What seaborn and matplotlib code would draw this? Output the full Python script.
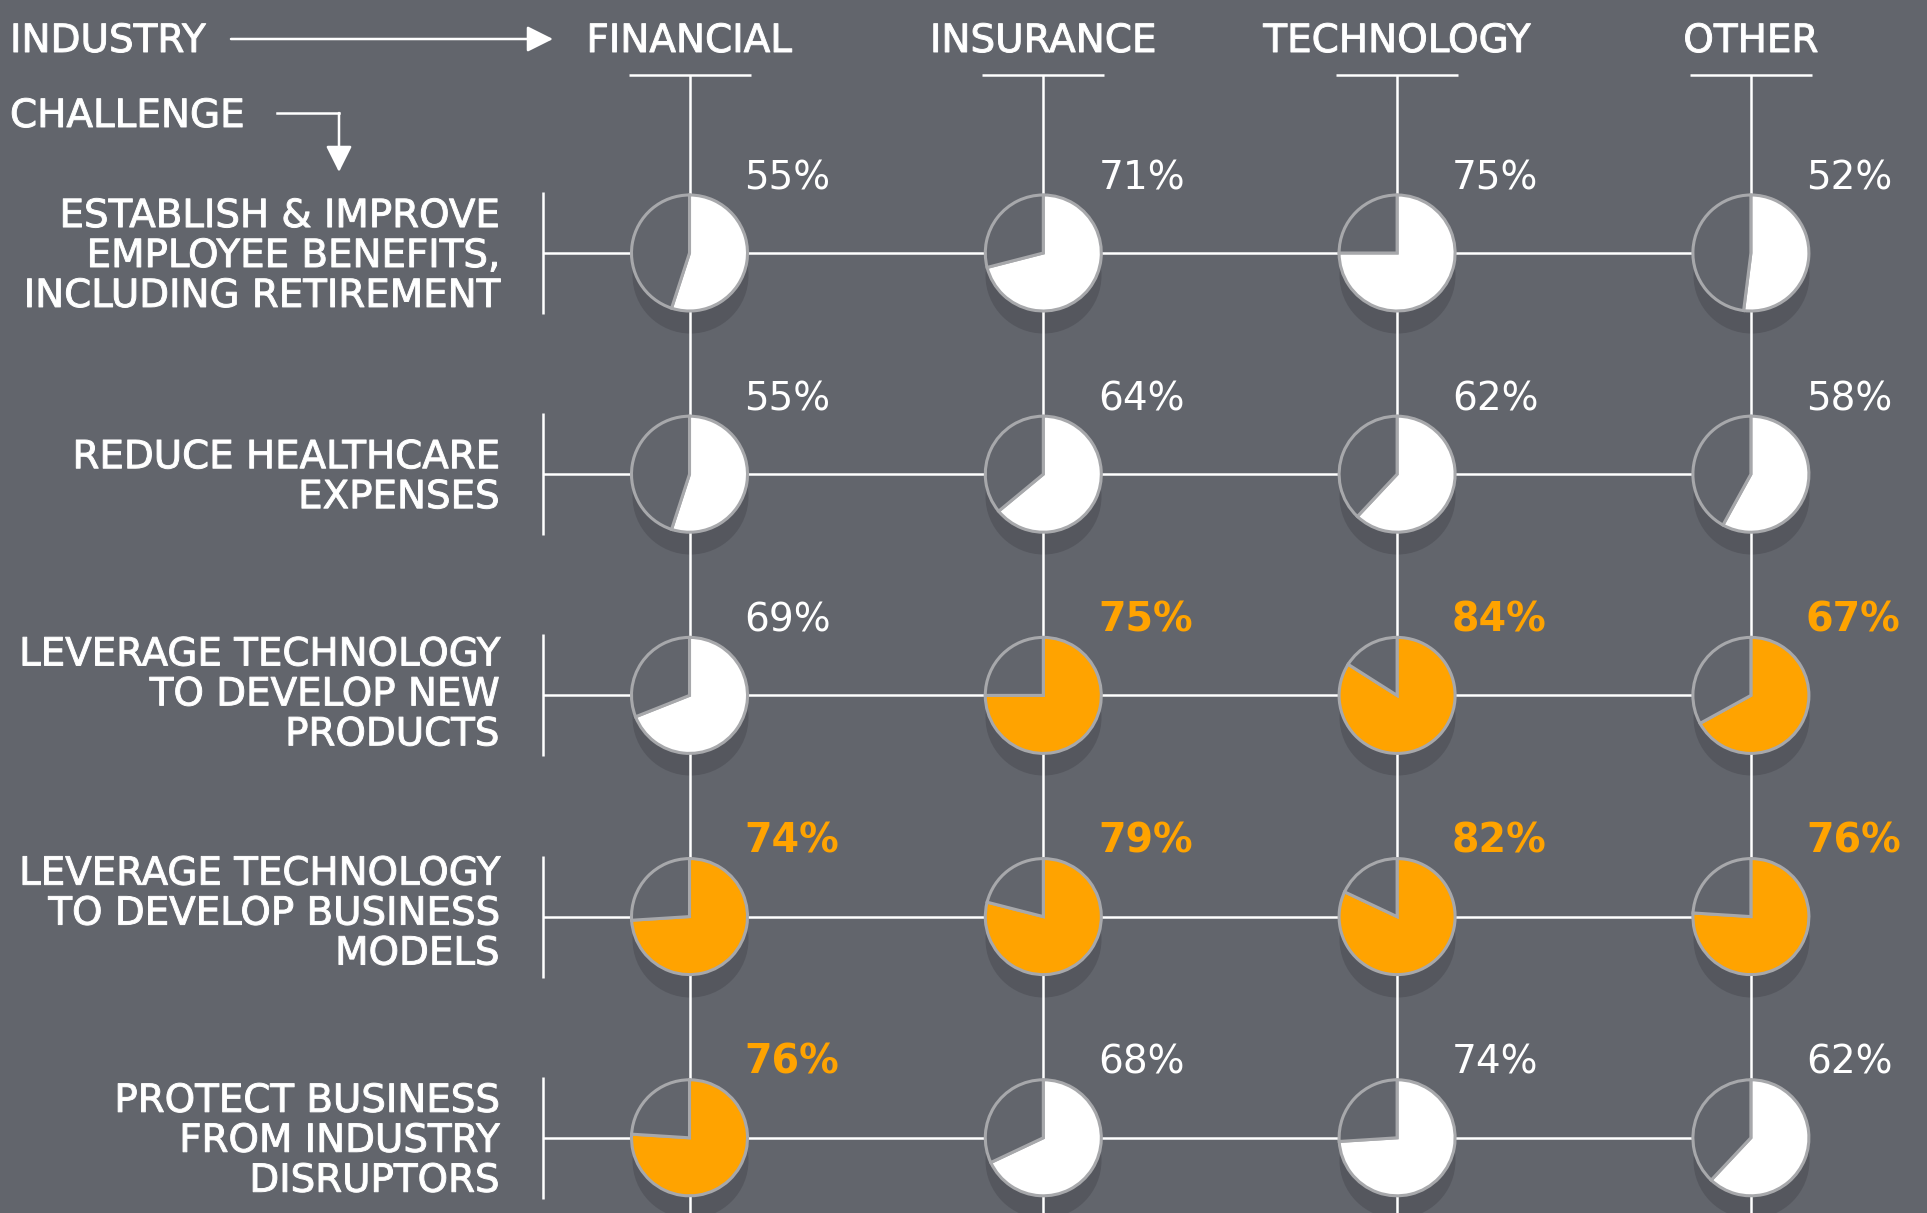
import matplotlib
matplotlib.use("Agg")
import matplotlib.pyplot as plt
import matplotlib.patheffects as pe
import numpy as np
import pandas as pd
import seaborn as sns

# ---------------- data ----------------
industries = ["FINANCIAL", "INSURANCE", "TECHNOLOGY", "OTHER"]
challenges = [
    "ESTABLISH & IMPROVE\nEMPLOYEE BENEFITS,\nINCLUDING RETIREMENT",
    "REDUCE HEALTHCARE\nEXPENSES",
    "LEVERAGE TECHNOLOGY\nTO DEVELOP NEW\nPRODUCTS",
    "LEVERAGE TECHNOLOGY\nTO DEVELOP BUSINESS\nMODELS",
    "PROTECT BUSINESS\nFROM INDUSTRY\nDISRUPTORS",
]
financial = [55, 55, 69, 74, 76]
insurance = [71, 64, 75, 79, 68]
technology = [75, 62, 84, 82, 74]
other = [52, 58, 67, 76, 62]
series = [financial, insurance, technology, other]

# ---------------- style ----------------
W, H = 1927, 1213
BG = "#62656c"
SHADOW = "#55575e"
EDGE = "#a7a8ab"
ORANGE = "#ffa300"
WHITE = "#ffffff"
LW = 1.8

sns.set_theme(style="white")
plt.rcParams["font.family"] = ["DejaVu Sans"]

# a slightly heavier regular face (medium-weight look)
MEDIUM = [pe.Stroke(linewidth=0.7, foreground=WHITE)]

# layout (pixel-like units, 1 unit = 1 px)
X0, DX = 689.5, 353.8
Y0, DY = 253.0, 221.2
R = 58
SHADOW_DY = 22
HEADER_BAR_Y = 75
LABEL_RIGHT = 499
BRACKET_X = 543
BRACKET_HALF = 61
LABEL_DY = [0, 0, 4, 6, 0]


def colx(i):
    return X0 + i * DX


def rowy(j):
    return H - (Y0 + j * DY)


rows = []
for i, (ind, vals) in enumerate(zip(industries, series)):
    for j, v in enumerate(vals):
        rows.append(dict(industry=ind, col=i, row=j, value=v))
df = pd.DataFrame(rows)
df["rank"] = df.groupby("industry")["value"].rank(ascending=False, method="first")
df["highlight"] = df["rank"] <= 2
df["x"] = df["col"].map(colx)
df["y"] = df["row"].map(rowy)
df["sy"] = df["y"] - SHADOW_DY

fig = plt.figure(figsize=(W / 100, H / 100), dpi=100, facecolor=BG)
ax = fig.add_axes([0, 0, 1, 1])
ax.set_facecolor(BG)

# shadows
sns.scatterplot(data=df, x="x", y="sy", s=(2 * R * 0.72) ** 2, color=SHADOW,
                linewidth=0, marker="o", ax=ax, legend=False, zorder=1)

HEAD_FS = 28.0
LAB_FS = 27.9

# column lines and header bars
for i, ind in enumerate(industries):
    x = colx(i)
    ax.plot([x, x], [H - HEADER_BAR_Y, 0], color=WHITE, lw=LW, zorder=2,
            solid_capstyle="butt")
    ax.plot([x - 61, x + 61], [H - HEADER_BAR_Y, H - HEADER_BAR_Y], color=WHITE,
            lw=LW, zorder=2, solid_capstyle="butt")
    ax.text(x, H - 52, ind, ha="center", va="baseline", fontsize=HEAD_FS,
            color=WHITE, zorder=5, path_effects=MEDIUM)

# row lines, brackets, labels
for j, lab in enumerate(challenges):
    y = rowy(j)
    ax.plot([BRACKET_X, colx(len(industries) - 1)], [y, y], color=WHITE, lw=LW,
            zorder=2, solid_capstyle="butt")
    ax.plot([BRACKET_X, BRACKET_X], [y - BRACKET_HALF, y + BRACKET_HALF],
            color=WHITE, lw=LW, zorder=2, solid_capstyle="butt")
    ax.text(LABEL_RIGHT, y - 3 + LABEL_DY[j], lab, ha="right", va="center",
            ma="right", fontsize=LAB_FS, color=WHITE, linespacing=1.065,
            zorder=5, path_effects=MEDIUM)

# pies
for _, r in df.iterrows():
    fill = ORANGE if r["highlight"] else WHITE
    ax.pie([r["value"], 100 - r["value"]], colors=[fill, BG], startangle=90,
           counterclock=False, radius=R, center=(r["x"], r["y"]), frame=True,
           wedgeprops=dict(edgecolor=EDGE, linewidth=2.2, zorder=3))
    hl = bool(r["highlight"])
    ax.text(r["x"] + 55, r["y"] + 75, f"{int(r['value'])}%", ha="left",
            va="center", fontsize=28.5 if hl else 28.0,
            color=ORANGE if hl else WHITE,
            fontweight="bold" if hl else "normal", zorder=5)

# header annotations
ax.text(10, H - 52, "INDUSTRY", ha="left", va="baseline", fontsize=HEAD_FS,
        color=WHITE, path_effects=MEDIUM)
ax.text(10, H - 127, "CHALLENGE", ha="left", va="baseline", fontsize=HEAD_FS,
        color=WHITE, path_effects=MEDIUM)
arrow_style = "-|>,head_length=0.4,head_width=0.2"
ax.annotate("", xy=(553, H - 39), xytext=(231, H - 39),
            arrowprops=dict(arrowstyle=arrow_style, color=WHITE, lw=LW,
                            mutation_scale=40, shrinkA=0, shrinkB=0))
ax.plot([277, 339], [H - 113, H - 113], color=WHITE, lw=LW,
        solid_capstyle="projecting")
ax.annotate("", xy=(339, H - 172), xytext=(339, H - 113),
            arrowprops=dict(arrowstyle=arrow_style, color=WHITE, lw=LW,
                            mutation_scale=40, shrinkA=0, shrinkB=0))

ax.set_xlim(0, W)
ax.set_ylim(0, H)
ax.set_aspect("auto")
ax.axis("off")

fig.savefig("out.png", dpi=100, facecolor=BG)
